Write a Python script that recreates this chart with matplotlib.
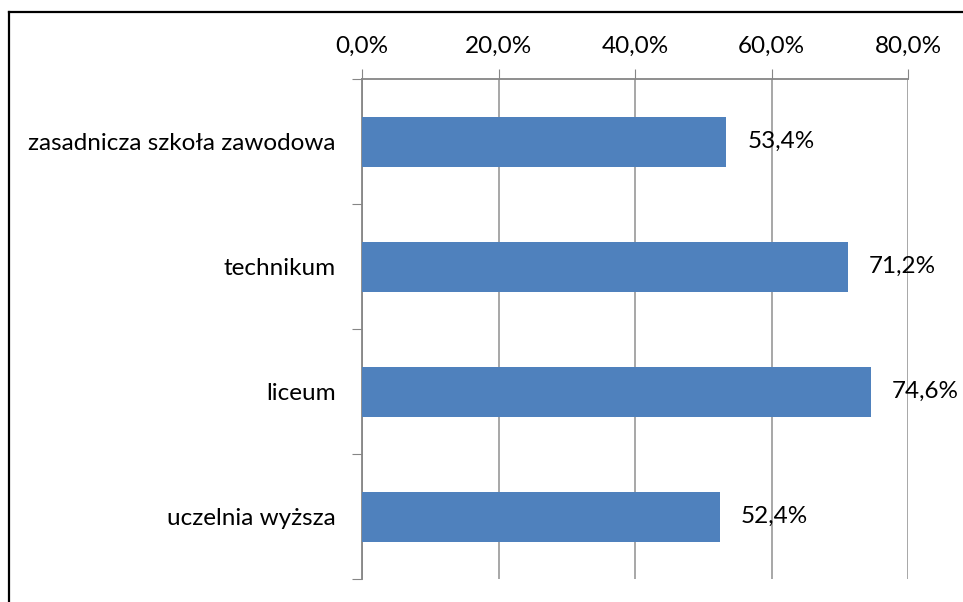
import numpy as np
import matplotlib.pyplot as plt
from matplotlib.lines import Line2D

# data
categories = ['zasadnicza szkoła zawodowa', 'technikum', 'liceum', 'uczelnia wyższa']
values = [53.4, 71.2, 74.6, 52.4]
xticks = [0, 20, 40, 60, 80]

plt.rcParams['font.family'] = ['Lato', 'DejaVu Sans']
fs = 17.5

W, H = 963, 602
fig = plt.figure(figsize=(W / 100, H / 100), dpi=100)
ax = fig.add_axes([362/W, 1 - 579/H, (908 - 362)/W, (579 - 79)/H])

ypos = np.arange(len(categories))
ax.barh(ypos, values, height=0.4, color='#4f81bd', zorder=3)

ax.set_xlim(0, 80)
ax.set_ylim(len(categories) - 0.5, -0.5)

ax.xaxis.tick_top()
ax.set_xticks(xticks)
ax.set_xticklabels([f'{t:.1f}%'.replace('.', ',') for t in xticks], fontsize=fs)
ax.tick_params(axis='x', direction='out', length=7, color='#868686', pad=9)

# category boundaries get the tick marks, names sit between them
ax.set_yticks(np.arange(-0.5, len(categories), 1.0))
ax.set_yticklabels([])
ax.set_yticks(ypos, minor=True)
ax.set_yticklabels(categories, minor=True, fontsize=fs)
ax.tick_params(axis='y', which='major', direction='out', length=7, color='#868686')
ax.tick_params(axis='y', which='minor', length=0, pad=19)

ax.grid(axis='x', color='#a0a0a0', linewidth=1.3, zorder=0)
for s in ['right', 'bottom']:
    ax.spines[s].set_visible(False)
for s in ['left', 'top']:
    ax.spines[s].set_color('#868686')
    ax.spines[s].set_linewidth(1.3)

for y, v in zip(ypos, values):
    ax.annotate(f'{v:.1f}%'.replace('.', ','), (v, y), xytext=(15, 0),
                textcoords='offset points', va='center', ha='left', fontsize=fs)

# chart frame, only top and left edges are inside the crop
fig.add_artist(Line2D([9/W, 1], [1 - 12/H, 1 - 12/H], transform=fig.transFigure,
                      color='black', linewidth=1.6))
fig.add_artist(Line2D([9/W, 9/W], [0, 1 - 12/H], transform=fig.transFigure,
                      color='black', linewidth=1.6))

fig.savefig('out.png', dpi=100)
